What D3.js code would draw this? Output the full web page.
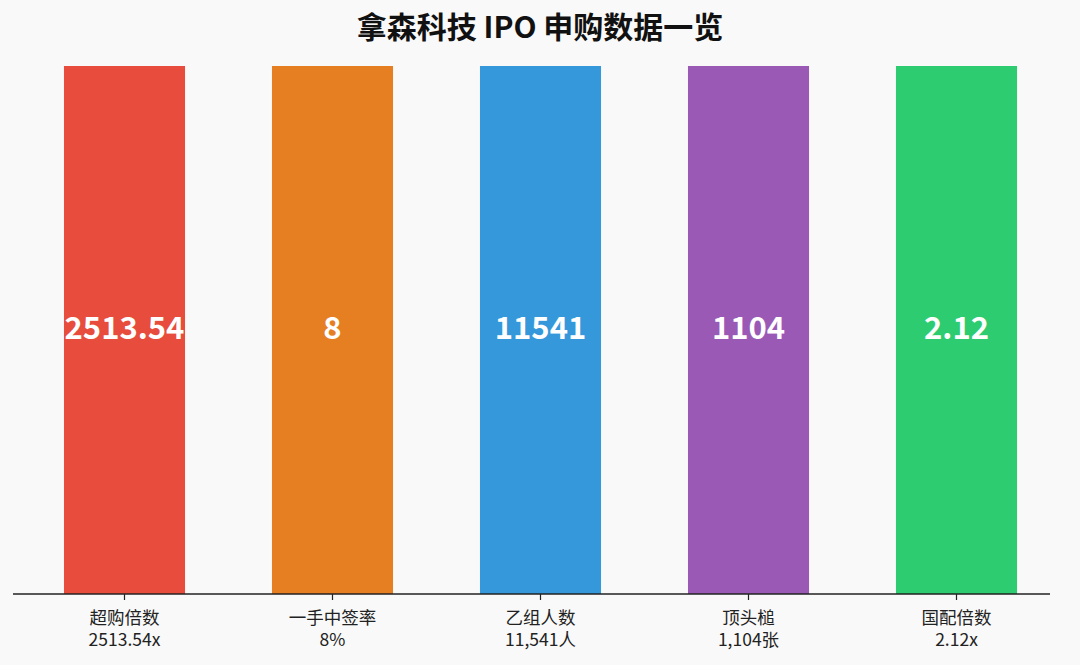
<!DOCTYPE html>
<html>
<head>
<meta charset="utf-8">
<script src="https://cdn.jsdelivr.net/npm/d3@7"></script>
<style>
  html, body { margin: 0; padding: 0; background: #f9f9f9; }
  svg { display: block; font-family: "Noto Sans CJK SC", "Noto Sans", sans-serif; }
</style>
</head>
<body>
<div class="chart"></div>
<script>
var width = 1080,
    height = 665;

// data
let categories = ["超购倍数", "一手中签率", "乙组人数", "顶头槌", "国配倍数"];
let values = ["2513.54", "8", "11541", "1104", "2.12"];
let subLabels = ["2513.54x", "8%", "11,541人", "1,104张", "2.12x"];
// bars are drawn normalized, all the same height
let shares = [1, 1, 1, 1, 1];
let colors = ["#e74c3c", "#e67e22", "#3498db", "#9b59b6", "#2ecc71"];

let data = categories.map(function(c, i){
    return { name: c, value: values[i], sub: subLabels[i], share: shares[i], color: colors[i] };
});

let svg = d3.select(".chart")
    .append("svg")
    .attr("width", width)
    .attr("height", height);

svg.append("rect")
    .attr("width", width)
    .attr("height", height)
    .attr("fill", "#f9f9f9");

let baseY = 594,
    topY = 66;

let x = d3.scaleBand()
    .domain(categories)
    .range([20.5, 1060.5])
    .paddingInner(0.418)
    .paddingOuter(0.209);

let y = d3.scaleLinear()
    .domain([0, 1])
    .range([baseY, topY]);

// title
svg.append("text")
    .attr("x", width / 2)
    .attr("y", 27)
    .attr("dy", "0.36em")
    .attr("text-anchor", "middle")
    .style("font-size", "30px")
    .style("font-weight", "bold")
    .style("fill", "#111")
    .text("拿森科技 IPO 申购数据一览");

// bars
svg.selectAll(".bar")
    .data(data)
    .join("rect")
    .attr("class", "bar")
    .attr("x", d => x(d.name))
    .attr("y", d => y(d.share))
    .attr("width", x.bandwidth())
    .attr("height", d => y(0) - y(d.share))
    .attr("fill", d => d.color);

// values inside bars
svg.selectAll(".bar_text")
    .data(data)
    .join("text")
    .attr("class", "bar_text")
    .attr("x", d => x(d.name) + x.bandwidth() / 2)
    .attr("y", d => y(d.share / 2) - 2)
    .attr("dy", "0.35em")
    .attr("text-anchor", "middle")
    .style("font-size", "31px")
    .style("font-weight", "bold")
    .style("fill", "#fff")
    .text(d => d.value);

// x axis
let axis = svg.append("g")
    .attr("transform", `translate(0, ${baseY})`);

axis.append("line")
    .attr("x1", 13)
    .attr("x2", 1050)
    .attr("stroke", "#222")
    .attr("stroke-width", 1.5);

let ticks = axis.selectAll(".tick")
    .data(data)
    .join("g")
    .attr("class", "tick")
    .attr("transform", d => `translate(${x(d.name) + x.bandwidth() / 2}, 0)`);

ticks.append("line")
    .attr("y2", 6)
    .attr("stroke", "#222")
    .attr("stroke-width", 1.2);

// two-line tick label: name, then the formatted value
let labels = ticks.append("text")
    .attr("text-anchor", "middle")
    .style("font-size", "17.5px")
    .style("fill", "#222");

labels.append("tspan")
    .attr("x", 0)
    .attr("y", 30)
    .text(d => d.name);

labels.append("tspan")
    .attr("x", 0)
    .attr("y", 52)
    .text(d => d.sub);
</script>
</body>
</html>
